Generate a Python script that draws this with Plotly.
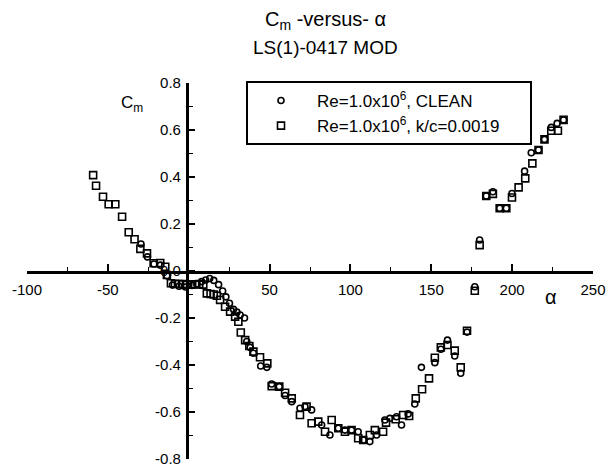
import plotly.graph_objects as go

# Clean, Re=1.0x10^6 (circles)
x_clean = [-29.5, -25.5, -21.5, -17.5, -13.5, -10, -6, -2, 2, 5, 8, 10.5, 13, 15.5, 18.5, 21, 23, 25.2,
           27.7, 29.8, 31.8, 34.5, 35.9, 38, 40, 44.5, 48.3, 51.3, 56, 59.6, 63.7, 68.8, 71.9, 76, 82.2,
           87.3, 92.5, 96.6, 100.7, 104.8, 107.9, 112, 116.2, 121.3, 124.4, 128.5, 131.6, 135.7, 139.8,
           143.9, 152.2, 155.9, 160, 164.5, 168.2, 172.1, 176.9, 179.9, 184, 188.1, 192.3, 196.4, 199.9,
           207.7, 211.8, 216.3, 220, 224.2, 227.8, 231.8]
y_clean = [0.115, 0.06, 0.03, 0.025, -0.02, -0.06, -0.065, -0.068, -0.062, -0.055, -0.045, -0.038, -0.032,
           -0.04, -0.058, -0.085, -0.11, -0.137, -0.163, -0.175, -0.187, -0.2, -0.3, -0.325, -0.35, -0.404,
           -0.41, -0.481, -0.492, -0.53, -0.556, -0.584, -0.577, -0.591, -0.655, -0.698, -0.669, -0.677,
           -0.677, -0.684, -0.719, -0.726, -0.698, -0.634, -0.627, -0.62, -0.655, -0.608, -0.566, -0.41,
           -0.39, -0.333, -0.294, -0.362, -0.435, -0.26, -0.067, 0.132, 0.319, 0.337, 0.267, 0.267, 0.33,
           0.425, 0.503, 0.515, 0.56, 0.611, 0.628, 0.643]

# Re=1.0x10^6, k/c=0.0019 (squares)
x_rough = [-59.1, -57.3, -53, -49.5, -45.4, -41.2, -37.1, -33.5, -29.9, -25.8, -21.7, -17.6, -14.5, -13.5,
           -11, -8.5, -6, -3.5, -1, 1.5, 4, 6.5, 9, 11.2, 13.5, 15.5, 17.4, 19.4, 22.5, 25.6, 28.7, 30.7,
           32.2, 34.9, 37.5, 40, 44.1, 48.6, 51.3, 56, 59.6, 63.7, 68.8, 72.9, 76, 80.1, 84.3, 88.4, 92.5,
           96.6, 100.7, 104.8, 107.9, 112, 115.1, 120.2, 122, 128, 132.6, 136.3, 140.4, 144.3, 148.6,
           152.2, 155.9, 160, 164.5, 168.2, 172.1, 176.9, 179.9, 184, 188.1, 192.3, 196.4, 199.9, 204,
           208.1, 212.5, 216.3, 220, 224.2, 228.3, 231.8]
y_rough = [0.408, 0.363, 0.316, 0.284, 0.284, 0.231, 0.165, 0.135, 0.094, 0.075, 0.033, 0.034, 0.018,
           -0.017, -0.052, -0.054, -0.055, -0.056, -0.058, -0.058, -0.057, -0.056, -0.058, -0.095, -0.098,
           -0.10, -0.105, -0.123, -0.152, -0.173, -0.194, -0.216, -0.262, -0.294, -0.319, -0.343, -0.367,
           -0.393, -0.49, -0.492, -0.518, -0.542, -0.613, -0.577, -0.648, -0.641, -0.684, -0.634, -0.669,
           -0.684, -0.677, -0.712, -0.719, -0.698, -0.677, -0.684, -0.645, -0.631, -0.613, -0.617, -0.542,
           -0.503, -0.457, -0.369, -0.325, -0.315, -0.339, -0.41, -0.254, -0.084, 0.11, 0.319, 0.328,
           0.267, 0.267, 0.313, 0.356, 0.394, 0.458, 0.515, 0.56, 0.597, 0.597, 0.643]

x_ticks = [-100, -50, 50, 100, 150, 200, 250]
y_ticks = [-0.8, -0.6, -0.4, -0.2, 0.0, 0.2, 0.4, 0.6, 0.8]
y_ticktext = ["-0.8", "-0.6", "-0.4", "-0.2", "0.0", "0.2", "0.4", "0.6", "0.8"]

FONT = "Liberation Sans, Arial, sans-serif"
X_RANGE = [-100, 250]
Y_RANGE = [-0.8, 0.8]
# where the axes cross (alpha = 0, Cm = 0) as fractions of the plot area
x_cross = (0 - X_RANGE[0]) / (X_RANGE[1] - X_RANGE[0])
y_cross = (0 - Y_RANGE[0]) / (Y_RANGE[1] - Y_RANGE[0])

fig = go.Figure()
fig.add_trace(go.Scatter(
    x=x_clean, y=y_clean, mode="markers", name="Re=1.0x10<sup>6</sup>, CLEAN",
    marker=dict(symbol="circle-open", size=6, color="black", line=dict(width=1.6, color="black")),
))
fig.add_trace(go.Scatter(
    x=x_rough, y=y_rough, mode="markers", name="Re=1.0x10<sup>6</sup>, k/c=0.0019",
    marker=dict(symbol="square-open", size=7, color="black", line=dict(width=1.6, color="black")),
))
# invisible helper traces so the helper subplots (which position the crossing axes) exist
for xa, ya in (("x", "y2"), ("x2", "y")):
    fig.add_trace(go.Scatter(x=[0.5 if xa == "x2" else 0], y=[0.5 if ya == "y2" else 0],
                             xaxis=xa, yaxis=ya, mode="markers", marker=dict(opacity=0, size=1),
                             showlegend=False, hoverinfo="skip"))

tick_common = dict(showgrid=False, zeroline=False, showline=True, linewidth=2.5, linecolor="black",
                   ticks="inside", ticklen=7, tickwidth=1.5, tickcolor="black",
                   tickfont=dict(family=FONT, size=15, color="black"), automargin=False)

fig.update_layout(
    width=613, height=472,
    template="none",
    paper_bgcolor="white", plot_bgcolor="rgba(0,0,0,0)",
    margin=dict(l=27, r=20, t=83, b=13),
    font=dict(family=FONT, size=15, color="black"),
    showlegend=True,
    legend=dict(x=(245 - 27) / 566, y=(459 - 83) / 376, xanchor="left", yanchor="top",
                bgcolor="rgba(0,0,0,0)", borderwidth=0, itemwidth=62,
                font=dict(family=FONT, size=17, color="black"),
                tracegroupgap=0),
    xaxis=dict(range=X_RANGE, domain=[0, 1], anchor="y2",
               tickmode="array", tickvals=x_ticks, ticktext=[str(v) for v in x_ticks],
               ticklabelstandoff=3,
               minor=dict(tickmode="linear", tick0=0, dtick=25, ticks="inside", ticklen=4.5,
                          tickwidth=1.2, tickcolor="black", showgrid=False),
               **tick_common),
    yaxis=dict(range=Y_RANGE, domain=[0, 1], anchor="x2",
               tickmode="array", tickvals=y_ticks, ticktext=y_ticktext,
               ticklabelstandoff=2,
               minor=dict(tickmode="linear", tick0=0, dtick=0.1, ticks="inside", ticklen=4.5,
                          tickwidth=1.2, tickcolor="black", showgrid=False),
               **tick_common),
    # helper axes: their domains start where alpha = 0 and Cm = 0
    xaxis2=dict(domain=[x_cross, 1], anchor="y", visible=False, range=[0, 1]),
    yaxis2=dict(domain=[y_cross, 1], anchor="x", visible=False, range=[0, 1]),
)

# legend frame
fig.add_shape(type="rect", xref="paper", yref="paper",
              x0=(247 - 27) / 566, x1=(531 - 27) / 566, y0=(459 - 144) / 376, y1=(459 - 82) / 376,
              line=dict(color="black", width=2), fillcolor="white", layer="below")

fig.add_annotation(text="C<sub>m</sub> -versus- α", xref="paper", yref="paper",
                   x=(325 - 27) / 566, y=(459 - 21) / 376, showarrow=False,
                   font=dict(family=FONT, size=20, color="black"), xanchor="center", yanchor="middle")
fig.add_annotation(text="LS(1)-0417 MOD", xref="paper", yref="paper",
                   x=(325 - 27) / 566, y=(459 - 47) / 376, showarrow=False,
                   font=dict(family=FONT, size=19, color="black"), xanchor="center", yanchor="middle")
fig.add_annotation(text="C<sub>m</sub>", xref="paper", yref="paper",
                   x=(132 - 27) / 566, y=(459 - 104) / 376, showarrow=False,
                   font=dict(family=FONT, size=17, color="black"), xanchor="center", yanchor="middle")
fig.add_annotation(text="α", xref="paper", yref="paper",
                   x=(551 - 27) / 566, y=(459 - 297) / 376, showarrow=False,
                   font=dict(family=FONT, size=20, color="black"), xanchor="center", yanchor="middle")

fig.write_html("out.html")
